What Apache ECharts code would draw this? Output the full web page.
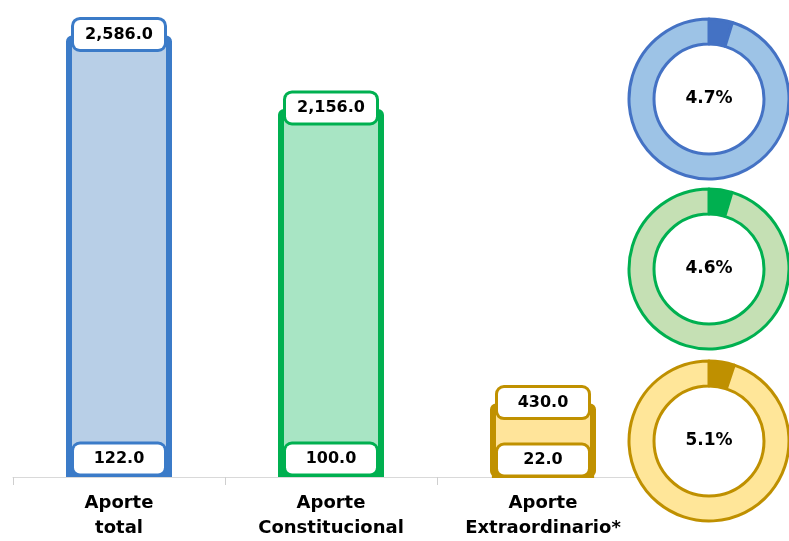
<!DOCTYPE html>
<html>
<head>
<meta charset="utf-8">
<title>Aportes</title>
<script src="https://cdn.jsdelivr.net/npm/echarts@6/dist/echarts.min.js"></script>
<style>
  html, body { margin: 0; padding: 0; background: #fff; }
  #chart { width: 789px; height: 541px; }
</style>
</head>
<body>
<div id="chart"></div>
<script>
// ---- datos ----
const categories = ['Aporte\ntotal', 'Aporte\nConstitucional', 'Aporte\nExtraordinario*']
const totals = [2586.0, 2156.0, 430.0]   // barra grande
const parts = [122.0, 100.0, 22.0]       // porción (etiqueta inferior)

// colores por categoría: borde oscuro, relleno claro, anillo claro
const darkColors = ['#3b7bc8', '#00b050', '#c09100']
const barFills = ['#b8cfe7', '#a8e5c4', '#ffe49a']
const ringFills = ['#9dc3e6', '#c5e0b4', '#ffe699']
const ringBorders = ['#4472c4', '#00b050', '#bf9000']

const FONT = 'DejaVu Sans'
const fmt = (v) => v.toLocaleString('en-US', { minimumFractionDigits: 1, maximumFractionDigits: 1 })

// caja blanca con borde del color de la barra
// (verticalAlign middle => distance se mide al centro de la caja)
function boxLabel(color, position, distance) {
  return {
    show: true,
    position,
    distance,
    formatter: (p) => fmt(p.value),
    fontFamily: FONT,
    fontWeight: 'bold',
    fontSize: 16,
    color: '#000',
    backgroundColor: '#fff',
    borderColor: color,
    borderWidth: 3,
    borderRadius: 6,
    width: 90,
    height: 29,
    align: 'center',
    verticalAlign: 'middle',
    lineHeight: 29
  }
}

// donas a la derecha: centro y porcentaje = parte / total
const ringCenters = [[709, 99], [709, 269], [709, 441]]
const pieSeries = totals.map((t, i) => {
  const pct = parts[i] / t * 100
  return {
    type: 'pie',
    silent: true,
    center: ringCenters[i],
    radius: [55, 80],
    startAngle: 90,
    clockwise: true,
    z: 5,
    labelLine: { show: false },
    itemStyle: { borderColor: ringBorders[i], borderWidth: 3 },
    data: [
      {
        value: pct,
        itemStyle: { color: ringBorders[i] },
        label: {
          show: true,
          position: 'center',
          formatter: pct.toFixed(1) + '%',
          fontFamily: FONT,
          fontWeight: 'bold',
          fontSize: 17,
          color: '#000'
        }
      },
      { value: 100 - pct, itemStyle: { color: ringFills[i] }, label: { show: false } }
    ]
  }
})

const chart = echarts.init(document.getElementById('chart'), null, { renderer: 'canvas' })
chart.setOption({
  animation: false,
  grid: { left: 13, right: 140, top: 16, bottom: 62 },
  xAxis: {
    type: 'category',
    data: categories,
    axisLine: { lineStyle: { color: '#d9d9d9', width: 1 } },
    axisTick: { show: true, length: 8, lineStyle: { color: '#cfcfcf' } },
    axisLabel: {
      fontFamily: FONT,
      fontWeight: 'bold',
      fontSize: 18,
      lineHeight: 25,
      color: '#000',
      margin: 14
    }
  },
  yAxis: { type: 'value', min: 0, max: 2700, show: false, splitLine: { show: false } },
  series: [
    {
      name: 'total',
      type: 'bar',
      barWidth: 106,
      z: 2,
      data: totals.map((v, i) => ({
        value: v,
        itemStyle: { color: barFills[i], borderColor: darkColors[i], borderWidth: 6, borderRadius: 3 },
        label: boxLabel(darkColors[i], 'top', 1)
      }))
    },
    {
      name: 'parte',
      type: 'bar',
      barWidth: 106,
      barGap: '-100%',
      z: 3,
      data: parts.map((v, i) => ({
        value: v,
        itemStyle: { color: darkColors[i], borderColor: darkColors[i], borderWidth: 6 },
        label: boxLabel(darkColors[i], 'insideBottom', 18)
      }))
    },
    ...pieSeries
  ]
})

window.addEventListener('resize', () => chart.resize())
</script>
</body>
</html>
